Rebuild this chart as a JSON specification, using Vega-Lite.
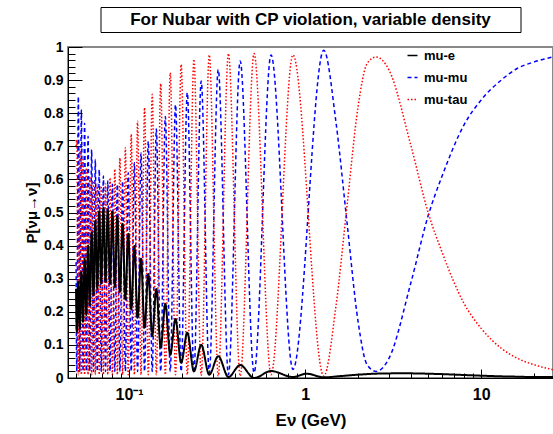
{
"$schema": "https://vega.github.io/schema/vega-lite/v6.json",
"autosize": {"type": "pad"},
"padding": {"left": 23, "top": 6, "right": 0, "bottom": 0},
"background": "white",
"config": {"font": "Liberation Sans", "view": {"stroke": null},
  "legend": {"labelFont": "Liberation Sans", "labelFontWeight": "bold", "labelFontSize": 13, "labelColor": "black", "symbolType": "stroke", "symbolSize": 100, "symbolStrokeWidth": 1.5, "labelOffset": 5, "rowPadding": 8, "padding": 0}},
"bounds": "flush",
"spacing": 15,
"center": true,
"vconcat": [
 {
  "width": 420, "height": 25,
  "view": {"stroke": "black", "strokeWidth": 1},
  "data": {"values": [{"t": "For Nubar with CP violation, variable density"}]},
  "mark": {"type": "text", "font": "Liberation Sans", "fontWeight": "bold", "fontSize": 17, "color": "black"},
  "encoding": {"text": {"field": "t"}}
 },
 {
  "width": 485, "height": 331,
  "view": {"stroke": "#888888", "strokeWidth": 2},
  "data": {"values": [
{"s":"mu-tau","E":0.05,"P":0.70},{"s":"mu-tau","E":0.0505,"P":0.72},{"s":"mu-tau","E":0.0515,"P":0.01},{"s":"mu-tau","E":0.0525,"P":0.69},{"s":"mu-tau","E":0.0536,"P":0.01},{"s":"mu-tau","E":0.0548,"P":0.66},{"s":"mu-tau","E":0.0559,"P":0.01},{"s":"mu-tau","E":0.0572,"P":0.635},{"s":"mu-tau","E":0.0585,"P":0.01},{"s":"mu-tau","E":0.0598,"P":0.61},{"s":"mu-tau","E":0.0613,"P":0.01},{"s":"mu-tau","E":0.0628,"P":0.595},{"s":"mu-tau","E":0.0643,"P":0.01},{"s":"mu-tau","E":0.066,"P":0.585},{"s":"mu-tau","E":0.0677,"P":0.01},{"s":"mu-tau","E":0.0695,"P":0.58},{"s":"mu-tau","E":0.0715,"P":0.01},{"s":"mu-tau","E":0.0735,"P":0.586},{"s":"mu-tau","E":0.0757,"P":0.01},{"s":"mu-tau","E":0.078,"P":0.605},{"s":"mu-tau","E":0.0804,"P":0.01},{"s":"mu-tau","E":0.083,"P":0.631},{"s":"mu-tau","E":0.0858,"P":0.01},{"s":"mu-tau","E":0.0887,"P":0.665},{"s":"mu-tau","E":0.0919,"P":0.01},{"s":"mu-tau","E":0.0953,"P":0.696},{"s":"mu-tau","E":0.0989,"P":0.01},{"s":"mu-tau","E":0.1029,"P":0.736},{"s":"mu-tau","E":0.1072,"P":0.01},{"s":"mu-tau","E":0.1118,"P":0.776},{"s":"mu-tau","E":0.1169,"P":0.01},{"s":"mu-tau","E":0.1225,"P":0.817},{"s":"mu-tau","E":0.1286,"P":0.01},{"s":"mu-tau","E":0.1354,"P":0.857},{"s":"mu-tau","E":0.1429,"P":0.01},{"s":"mu-tau","E":0.1513,"P":0.889},{"s":"mu-tau","E":0.1607,"P":0.01},{"s":"mu-tau","E":0.1714,"P":0.922},{"s":"mu-tau","E":0.1836,"P":0.01},{"s":"mu-tau","E":0.1977,"P":0.947},{"s":"mu-tau","E":0.2142,"P":0.01},{"s":"mu-tau","E":0.2336,"P":0.963},{"s":"mu-tau","E":0.257,"P":0.008},{"s":"mu-tau","E":0.2855,"P":0.976},{"s":"mu-tau","E":0.3211,"P":0.006},{"s":"mu-tau","E":0.3668,"P":0.98},{"s":"mu-tau","E":0.4278,"P":0.006},{"s":"mu-tau","E":0.513,"P":0.98},{"s":"mu-tau","E":0.6408,"P":0.01},{"s":"mu-tau","E":0.853,"P":0.976},{"s":"mu-tau","E":1.276,"P":0.006},{"s":"mu-tau","E":1.5,"P":0.22},{"s":"mu-tau","E":1.73,"P":0.52},{"s":"mu-tau","E":2.0,"P":0.82},{"s":"mu-tau","E":2.25,"P":0.95},{"s":"mu-tau","E":2.532,"P":0.97},{"s":"mu-tau","E":3.0,"P":0.93},{"s":"mu-tau","E":4.0,"P":0.70},{"s":"mu-tau","E":5.0,"P":0.50},{"s":"mu-tau","E":6.0,"P":0.38},{"s":"mu-tau","E":8.0,"P":0.225},{"s":"mu-tau","E":10,"P":0.15},{"s":"mu-tau","E":13,"P":0.09},{"s":"mu-tau","E":16,"P":0.06},{"s":"mu-tau","E":20,"P":0.04},{"s":"mu-tau","E":25.6,"P":0.025},
{"s":"mu-mu","E":0.05,"P":0.35},{"s":"mu-mu","E":0.0505,"P":0.02},{"s":"mu-mu","E":0.0515,"P":0.85},{"s":"mu-mu","E":0.0525,"P":0.02},{"s":"mu-mu","E":0.0536,"P":0.81},{"s":"mu-mu","E":0.0548,"P":0.02},{"s":"mu-mu","E":0.0559,"P":0.77},{"s":"mu-mu","E":0.0572,"P":0.02},{"s":"mu-mu","E":0.0585,"P":0.73},{"s":"mu-mu","E":0.0598,"P":0.02},{"s":"mu-mu","E":0.0613,"P":0.69},{"s":"mu-mu","E":0.0628,"P":0.02},{"s":"mu-mu","E":0.0643,"P":0.66},{"s":"mu-mu","E":0.066,"P":0.02},{"s":"mu-mu","E":0.0677,"P":0.63},{"s":"mu-mu","E":0.0695,"P":0.02},{"s":"mu-mu","E":0.0715,"P":0.61},{"s":"mu-mu","E":0.0735,"P":0.02},{"s":"mu-mu","E":0.0757,"P":0.595},{"s":"mu-mu","E":0.078,"P":0.02},{"s":"mu-mu","E":0.0804,"P":0.585},{"s":"mu-mu","E":0.083,"P":0.02},{"s":"mu-mu","E":0.0858,"P":0.585},{"s":"mu-mu","E":0.0887,"P":0.02},{"s":"mu-mu","E":0.0919,"P":0.595},{"s":"mu-mu","E":0.0953,"P":0.02},{"s":"mu-mu","E":0.0989,"P":0.62},{"s":"mu-mu","E":0.1029,"P":0.02},{"s":"mu-mu","E":0.1072,"P":0.65},{"s":"mu-mu","E":0.1118,"P":0.02},{"s":"mu-mu","E":0.1169,"P":0.68},{"s":"mu-mu","E":0.1225,"P":0.02},{"s":"mu-mu","E":0.1286,"P":0.715},{"s":"mu-mu","E":0.1354,"P":0.02},{"s":"mu-mu","E":0.1429,"P":0.752},{"s":"mu-mu","E":0.1513,"P":0.02},{"s":"mu-mu","E":0.1607,"P":0.79},{"s":"mu-mu","E":0.1714,"P":0.02},{"s":"mu-mu","E":0.1836,"P":0.826},{"s":"mu-mu","E":0.1977,"P":0.02},{"s":"mu-mu","E":0.2142,"P":0.862},{"s":"mu-mu","E":0.2336,"P":0.015},{"s":"mu-mu","E":0.257,"P":0.897},{"s":"mu-mu","E":0.2855,"P":0.015},{"s":"mu-mu","E":0.3211,"P":0.932},{"s":"mu-mu","E":0.3668,"P":0.01},{"s":"mu-mu","E":0.4278,"P":0.958},{"s":"mu-mu","E":0.513,"P":0.016},{"s":"mu-mu","E":0.6408,"P":0.976},{"s":"mu-mu","E":0.853,"P":0.026},{"s":"mu-mu","E":1.276,"P":0.99},{"s":"mu-mu","E":1.5,"P":0.77},{"s":"mu-mu","E":1.73,"P":0.47},{"s":"mu-mu","E":2.0,"P":0.17},{"s":"mu-mu","E":2.25,"P":0.04},{"s":"mu-mu","E":2.532,"P":0.02},{"s":"mu-mu","E":3.0,"P":0.06},{"s":"mu-mu","E":4.0,"P":0.29},{"s":"mu-mu","E":5.0,"P":0.49},{"s":"mu-mu","E":6.0,"P":0.61},{"s":"mu-mu","E":8.0,"P":0.765},{"s":"mu-mu","E":10,"P":0.84},{"s":"mu-mu","E":13,"P":0.90},{"s":"mu-mu","E":16,"P":0.935},{"s":"mu-mu","E":20,"P":0.955},{"s":"mu-mu","E":25.6,"P":0.97},
{"s":"mu-e","E":0.05,"P":0.27},{"s":"mu-e","E":0.0505,"P":0.14},{"s":"mu-e","E":0.0515,"P":0.29},{"s":"mu-e","E":0.0525,"P":0.15},{"s":"mu-e","E":0.0536,"P":0.32},{"s":"mu-e","E":0.0548,"P":0.17},{"s":"mu-e","E":0.0559,"P":0.36},{"s":"mu-e","E":0.0572,"P":0.19},{"s":"mu-e","E":0.0585,"P":0.40},{"s":"mu-e","E":0.0598,"P":0.22},{"s":"mu-e","E":0.0613,"P":0.44},{"s":"mu-e","E":0.0628,"P":0.25},{"s":"mu-e","E":0.0643,"P":0.474},{"s":"mu-e","E":0.066,"P":0.27},{"s":"mu-e","E":0.0677,"P":0.504},{"s":"mu-e","E":0.0695,"P":0.285},{"s":"mu-e","E":0.0715,"P":0.514},{"s":"mu-e","E":0.0735,"P":0.29},{"s":"mu-e","E":0.0757,"P":0.509},{"s":"mu-e","E":0.078,"P":0.285},{"s":"mu-e","E":0.0804,"P":0.502},{"s":"mu-e","E":0.083,"P":0.275},{"s":"mu-e","E":0.0858,"P":0.489},{"s":"mu-e","E":0.0887,"P":0.26},{"s":"mu-e","E":0.0919,"P":0.466},{"s":"mu-e","E":0.0953,"P":0.237},{"s":"mu-e","E":0.0989,"P":0.436},{"s":"mu-e","E":0.1029,"P":0.207},{"s":"mu-e","E":0.1072,"P":0.399},{"s":"mu-e","E":0.1118,"P":0.182},{"s":"mu-e","E":0.1169,"P":0.36},{"s":"mu-e","E":0.1225,"P":0.152},{"s":"mu-e","E":0.1286,"P":0.314},{"s":"mu-e","E":0.1354,"P":0.127},{"s":"mu-e","E":0.1429,"P":0.269},{"s":"mu-e","E":0.1513,"P":0.092},{"s":"mu-e","E":0.1607,"P":0.224},{"s":"mu-e","E":0.1714,"P":0.07},{"s":"mu-e","E":0.1836,"P":0.178},{"s":"mu-e","E":0.1977,"P":0.046},{"s":"mu-e","E":0.2142,"P":0.137},{"s":"mu-e","E":0.2336,"P":0.02},{"s":"mu-e","E":0.257,"P":0.10},{"s":"mu-e","E":0.2855,"P":0.01},{"s":"mu-e","E":0.3211,"P":0.066},{"s":"mu-e","E":0.3668,"P":0.003},{"s":"mu-e","E":0.4278,"P":0.039},{"s":"mu-e","E":0.513,"P":0.0},{"s":"mu-e","E":0.6408,"P":0.021},{"s":"mu-e","E":0.853,"P":0.003},{"s":"mu-e","E":1.02,"P":0.013},{"s":"mu-e","E":1.276,"P":0.002},{"s":"mu-e","E":1.6,"P":0.006},{"s":"mu-e","E":2.0,"P":0.01},{"s":"mu-e","E":2.5,"P":0.013},{"s":"mu-e","E":3.2,"P":0.014},{"s":"mu-e","E":4.0,"P":0.014},{"s":"mu-e","E":5.0,"P":0.013},{"s":"mu-e","E":6.5,"P":0.011},{"s":"mu-e","E":8.0,"P":0.009},{"s":"mu-e","E":10,"P":0.007},{"s":"mu-e","E":13,"P":0.005},{"s":"mu-e","E":16,"P":0.004},{"s":"mu-e","E":20,"P":0.003},{"s":"mu-e","E":25.6,"P":0.003}
  ]},
  "resolve": {"axis": {"x": "independent", "y": "independent"}},
  "layer": [
   {
    "transform": [{"filter": "datum.s == 'mu-mu'"}],
    "mark": {"type": "line", "interpolate": "monotone", "strokeWidth": 1.5, "clip": true},
    "encoding": {
     "x": {"field": "E", "type": "quantitative", "scale": {"type": "log", "domain": [0.045, 25.6], "nice": false},
       "axis": {"orient": "bottom", "values": [0.1, 1, 10], "labelExpr": "datum.value < 0.5 ? '10⁻¹' : datum.value < 5 ? '1' : '10'", "tickSize": -9, "tickColor": "black", "domainColor": "black", "labelFont": "Liberation Sans", "labelFontWeight": "bold", "labelFontSize": 16, "labelColor": "black", "labelPadding": 17, "grid": false, "title": "Eν (GeV)", "titleFont": "Liberation Sans", "titleFontWeight": "bold", "titleFontSize": 17, "titleColor": "black", "titleY": 34}},
     "y": {"field": "P", "type": "quantitative", "scale": {"domain": [0, 1], "nice": false},
       "axis": {"orient": "left", "values": [0, 0.1, 0.2, 0.3, 0.4, 0.5, 0.6, 0.7, 0.8, 0.9, 1], "format": "~g", "tickSize": -14, "tickColor": "black", "domainColor": "black", "labelFont": "Liberation Sans", "labelFontWeight": "bold", "labelFontSize": 14, "labelColor": "black", "labelPadding": 19, "grid": false, "title": "P[νμ→ν]", "titleFont": "Liberation Sans", "titleFontWeight": "bold", "titleFontSize": 15, "titleColor": "black", "titlePadding": 4}},
     "color": {"field": "s", "type": "nominal", "scale": {"domain": ["mu-e", "mu-mu", "mu-tau"], "range": ["#000000", "#0000ff", "#ff0000"]},
       "legend": {"orient": "none", "legendX": 338, "legendY": 42, "title": null}},
     "strokeDash": {"field": "s", "type": "nominal", "scale": {"domain": ["mu-e", "mu-mu", "mu-tau"], "range": [[1, 0], [4, 3], [1.5, 2]]},
       "legend": {"orient": "none", "legendX": 338, "legendY": 42, "title": null}}
    }
   },
   {
    "transform": [{"filter": "datum.s == 'mu-tau'"}],
    "mark": {"type": "line", "interpolate": "monotone", "strokeWidth": 1.5, "clip": true},
    "encoding": {
     "x": {"field": "E", "type": "quantitative", "scale": {"type": "log", "domain": [0.045, 25.6], "nice": false},
       "axis": {"orient": "bottom", "values": [0.05, 0.06, 0.07, 0.08, 0.09, 0.2, 0.3, 0.4, 0.5, 0.6, 0.7, 0.8, 0.9, 2, 3, 4, 5, 6, 7, 8, 9, 20], "tickSize": -5, "tickColor": "black", "labels": false, "domain": false, "grid": false, "title": null}},
     "y": {"field": "P", "type": "quantitative", "scale": {"domain": [0, 1], "nice": false},
       "axis": {"orient": "left", "values": [0.02, 0.04, 0.06, 0.08, 0.12, 0.14, 0.16, 0.18, 0.22, 0.24, 0.26, 0.28, 0.32, 0.34, 0.36, 0.38, 0.42, 0.44, 0.46, 0.48, 0.52, 0.54, 0.56, 0.58, 0.62, 0.64, 0.66, 0.68, 0.72, 0.74, 0.76, 0.78, 0.82, 0.84, 0.86, 0.88, 0.92, 0.94, 0.96, 0.98], "tickSize": -7, "tickColor": "black", "labels": false, "domain": false, "grid": false, "title": null}},
     "color": {"field": "s", "type": "nominal", "scale": {"domain": ["mu-e", "mu-mu", "mu-tau"], "range": ["#000000", "#0000ff", "#ff0000"]}},
     "strokeDash": {"field": "s", "type": "nominal", "scale": {"domain": ["mu-e", "mu-mu", "mu-tau"], "range": [[1, 0], [4, 3], [1.5, 2]]}}
    }
   },
   {
    "transform": [{"filter": "datum.s == 'mu-e'"}],
    "mark": {"type": "line", "interpolate": "monotone", "strokeWidth": 2, "clip": true},
    "encoding": {
     "x": {"field": "E", "type": "quantitative", "scale": {"type": "log", "domain": [0.045, 25.6], "nice": false}, "axis": null},
     "y": {"field": "P", "type": "quantitative", "scale": {"domain": [0, 1], "nice": false}, "axis": null},
     "color": {"field": "s", "type": "nominal", "scale": {"domain": ["mu-e", "mu-mu", "mu-tau"], "range": ["#000000", "#0000ff", "#ff0000"]}},
     "strokeDash": {"field": "s", "type": "nominal", "scale": {"domain": ["mu-e", "mu-mu", "mu-tau"], "range": [[1, 0], [4, 3], [1.5, 2]]}}
    }
   }
  ]
 }
]
}
